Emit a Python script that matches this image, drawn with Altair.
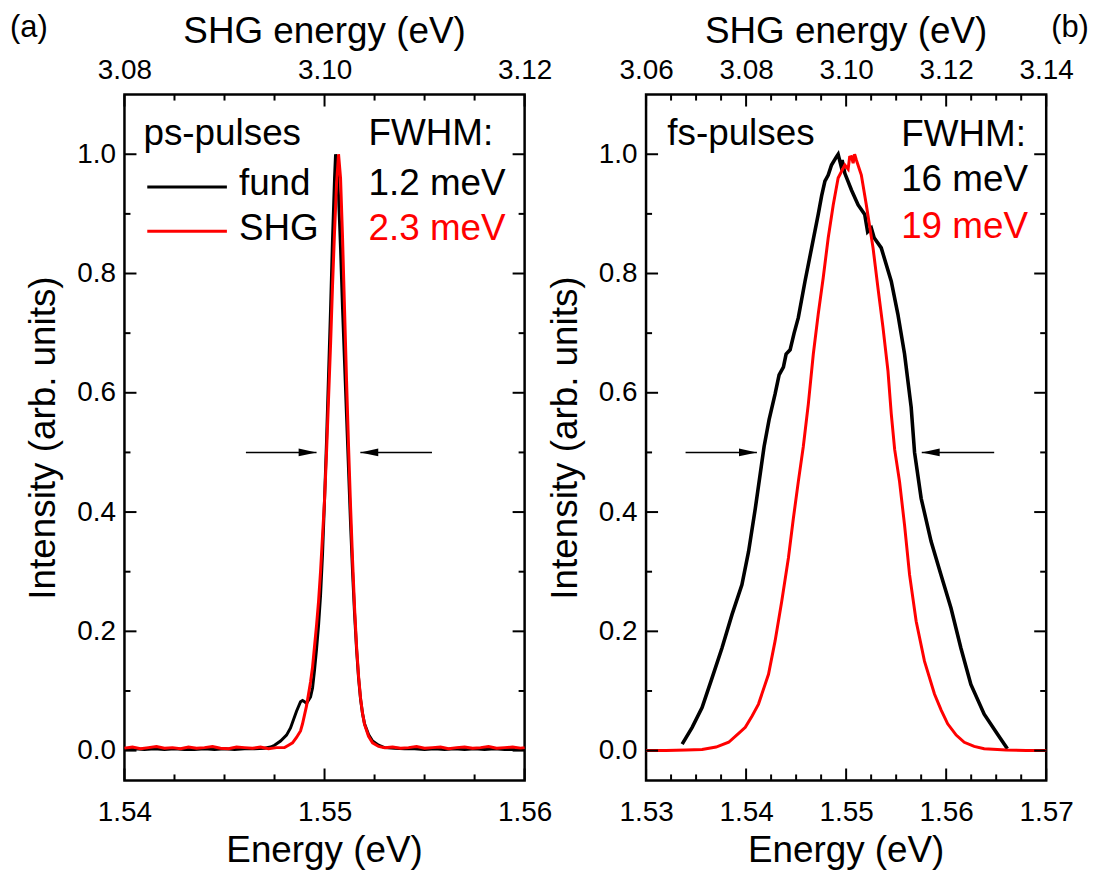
import altair as alt
import pandas as pd

FONT = "Liberation Sans, Arial, Helvetica, sans-serif"

# ---------------- data: panel (a) ps-pulses ----------------
ps_fund_E = [1.5400, 1.5405, 1.5410, 1.5415, 1.5420, 1.5425, 1.5430, 1.5435, 1.5440, 1.5445,
             1.5450, 1.5455, 1.5460, 1.5465, 1.5470, 1.5473, 1.5475, 1.5478, 1.5481, 1.5483,
             1.5486, 1.5488, 1.5489, 1.5490, 1.5491, 1.5493, 1.5494, 1.5495, 1.5496, 1.5497,
             1.5498, 1.5499, 1.5500, 1.5501, 1.5502, 1.5503, 1.5504, 1.5505, 1.55055, 1.5506,
             1.5507, 1.5508, 1.5509, 1.5510, 1.5511, 1.5512, 1.5513, 1.5514, 1.5515, 1.5516,
             1.5517, 1.5518, 1.5519, 1.5520, 1.5522, 1.5524, 1.5527, 1.5530, 1.5535, 1.5540,
             1.5545, 1.5550, 1.5555, 1.5560, 1.5565, 1.5570, 1.5575, 1.5580, 1.5585, 1.5590,
             1.5595, 1.5600]
ps_fund_I = [0.002, 0.003, 0.002, 0.003, 0.002, 0.003, 0.002, 0.002, 0.003, 0.002,
             0.003, 0.002, 0.003, 0.003, 0.004, 0.006, 0.009, 0.016, 0.026, 0.038,
             0.066, 0.082, 0.084, 0.082, 0.079, 0.090, 0.105, 0.135, 0.170, 0.210,
             0.260, 0.330, 0.420, 0.520, 0.630, 0.740, 0.860, 0.960, 1.000, 0.990,
             0.930, 0.840, 0.740, 0.650, 0.560, 0.470, 0.380, 0.300, 0.230, 0.170,
             0.122, 0.086, 0.062, 0.045, 0.027, 0.016, 0.009, 0.005, 0.004, 0.003,
             0.003, 0.002, 0.003, 0.002, 0.003, 0.002, 0.003, 0.002, 0.003, 0.002,
             0.002, 0.003]

ps_shg_E = [1.5400, 1.5404, 1.5408, 1.5412, 1.5416, 1.5420, 1.5424, 1.5428, 1.5432, 1.5436,
            1.5440, 1.5444, 1.5448, 1.5452, 1.5456, 1.5460, 1.5464, 1.5468, 1.5472, 1.5476,
            1.5480, 1.5482, 1.5484, 1.5486, 1.5488, 1.5489, 1.5490, 1.5491, 1.5492, 1.5493,
            1.5494, 1.5495, 1.5496, 1.5497, 1.5498, 1.5499, 1.5500, 1.5501, 1.5502, 1.5503,
            1.5504, 1.5505, 1.5506, 1.5507, 1.5508, 1.5509, 1.5510, 1.5511, 1.5512, 1.5513,
            1.5514, 1.5515, 1.5516, 1.5517, 1.5518, 1.5519, 1.5520, 1.5522, 1.5524, 1.5527,
            1.5530, 1.5534, 1.5538, 1.5542, 1.5546, 1.5550, 1.5554, 1.5558, 1.5562, 1.5566,
            1.5570, 1.5574, 1.5578, 1.5582, 1.5586, 1.5590, 1.5594, 1.5598, 1.5600]
ps_shg_I = [0.004, 0.006, 0.003, 0.005, 0.007, 0.004, 0.005, 0.003, 0.006, 0.004,
            0.005, 0.007, 0.004, 0.003, 0.006, 0.005, 0.004, 0.006, 0.003, 0.005,
            0.005, 0.009, 0.013, 0.022, 0.033, 0.045, 0.060, 0.075, 0.095, 0.115,
            0.140, 0.175, 0.210, 0.250, 0.300, 0.360, 0.420, 0.500, 0.590, 0.680,
            0.780, 0.870, 0.950, 1.000, 0.960, 0.860, 0.740, 0.620, 0.510, 0.410,
            0.320, 0.240, 0.175, 0.125, 0.088, 0.062, 0.044, 0.024, 0.013, 0.007,
            0.005, 0.006, 0.004, 0.005, 0.007, 0.004, 0.005, 0.006, 0.003, 0.005,
            0.006, 0.004, 0.005, 0.007, 0.004, 0.005, 0.006, 0.004, 0.005]

# ---------------- data: panel (b) fs-pulses ----------------
fs_fund_E = [1.53361, 1.53461, 1.53560, 1.53660, 1.53759, 1.53859, 1.53958, 1.54025, 1.54092, 1.54180,
             1.54230, 1.54290, 1.54330, 1.54373, 1.54400, 1.54440, 1.54480, 1.54522, 1.54589, 1.54655,
             1.54721, 1.54755, 1.54788, 1.54821, 1.54854, 1.54904, 1.54920, 1.54947, 1.54960, 1.54987,
             1.55020, 1.55053, 1.55120, 1.55186, 1.55215, 1.55252, 1.55280, 1.55351, 1.55451, 1.55517,
             1.55584, 1.55650, 1.55684, 1.55750, 1.55849, 1.55948, 1.56048, 1.56147, 1.56247, 1.56380,
             1.56512, 1.56612]
fs_fund_I = [0.011, 0.039, 0.072, 0.122, 0.172, 0.228, 0.278, 0.334, 0.406, 0.510,
             0.555, 0.598, 0.630, 0.643, 0.665, 0.672, 0.700, 0.726, 0.787, 0.843,
             0.899, 0.930, 0.955, 0.965, 0.982, 0.996, 1.000, 0.982, 0.990, 0.968,
             0.954, 0.940, 0.915, 0.899, 0.870, 0.876, 0.860, 0.843, 0.787, 0.732,
             0.665, 0.576, 0.500, 0.423, 0.351, 0.295, 0.239, 0.172, 0.111, 0.061,
             0.028, 0.003]

fs_shg_E = [1.53000, 1.53200, 1.53400, 1.53560, 1.53700, 1.53826, 1.53920, 1.53992, 1.54060, 1.54124,
            1.54224, 1.54290, 1.54356, 1.54423, 1.54473, 1.54522, 1.54572, 1.54622, 1.54672, 1.54721,
            1.54771, 1.54821, 1.54871, 1.54920, 1.54987, 1.55020, 1.55035, 1.55053, 1.55070, 1.55085,
            1.55103, 1.55152, 1.55202, 1.55269, 1.55318, 1.55368, 1.55418, 1.55451, 1.55485, 1.55534,
            1.55584, 1.55634, 1.55700, 1.55783, 1.55883, 1.55950, 1.56015, 1.56100, 1.56181, 1.56280,
            1.56380, 1.56600, 1.56800, 1.57000]
fs_shg_I = [0.000, 0.000, 0.001, 0.002, 0.006, 0.014, 0.028, 0.039, 0.058, 0.078,
            0.128, 0.184, 0.250, 0.323, 0.390, 0.451, 0.510, 0.581, 0.665, 0.732,
            0.793, 0.860, 0.915, 0.960, 0.982, 0.975, 0.995, 0.996, 0.985, 1.000,
            0.990, 0.965, 0.915, 0.843, 0.776, 0.710, 0.637, 0.565, 0.505, 0.451,
            0.378, 0.295, 0.217, 0.150, 0.095, 0.068, 0.045, 0.026, 0.014, 0.007,
            0.003, 0.001, 0.000, 0.000]

# ---------------- axes ----------------
y_domain = [-0.05, 1.10]
y_major = [0.0, 0.2, 0.4, 0.6, 0.8, 1.0]
y_minor = [0.1, 0.3, 0.5, 0.7, 0.9]

a_x_domain = [1.54, 1.56]
a_x_major = [1.54, 1.55, 1.56]
a_x_minor = [1.5425, 1.545, 1.5475, 1.5525, 1.555, 1.5575]
a_top_domain = [3.08, 3.12]
a_top_major = [3.08, 3.10, 3.12]
a_top_minor = [3.085, 3.09, 3.095, 3.105, 3.11, 3.115]

b_x_domain = [1.53, 1.57]
b_x_major = [1.53, 1.54, 1.55, 1.56, 1.57]
b_x_minor = [1.5325, 1.535, 1.5375, 1.5425, 1.545, 1.5475, 1.5525, 1.555, 1.5575,
             1.5625, 1.565, 1.5675]
b_top_domain = [3.06, 3.14]
b_top_major = [3.06, 3.08, 3.10, 3.12, 3.14]
b_top_minor = [3.065, 3.07, 3.075, 3.085, 3.09, 3.095, 3.105, 3.11, 3.115, 3.125, 3.13, 3.135]

x_title = "Energy (eV)"
top_title = "SHG energy (eV)"
y_title = "Intensity (arb. units)"

# tick lengths (major, minor) in data units: 12 px and 6 px
tick_len_y = [0.02, 0.01]
a_tick_len_x = [0.0006, 0.0003]
b_tick_len_x = [0.0012, 0.0006]

# ---------------- annotations ----------------
a_text_x = [1.54095, 1.54572, 1.54572, 1.5522, 1.5522, 1.5522]
a_text_y = [1.0155, 0.932, 0.857, 1.0155, 0.932, 0.857]
a_text = ["ps-pulses", "fund", "SHG", "FWHM:", "1.2 meV", "2.3 meV"]
a_text_c = ["black", "black", "black", "black", "black", "red"]
a_leg_x = [1.54114, 1.54114]
a_leg_x2 = [1.54512, 1.54512]
a_leg_y = [0.945, 0.871]
a_leg_c = ["black", "red"]
a_arrow_start = [1.54607, 1.55537]
a_arrow_tip = [1.54960, 1.55179]
arrow_level = [0.5, 0.5]

b_text_x = [1.53212, 1.5555, 1.5555, 1.5555]
b_text_y = [1.0155, 1.0145, 0.9377, 0.8598]
b_text = ["fs-pulses", "FWHM:", "16 meV", "19 meV"]
b_text_c = ["black", "black", "black", "red"]
b_arrow_start = [1.53395, 1.56480]
b_arrow_tip = [1.54108, 1.55756]

HEAD_R = "M-2,-0.44L0,0L-2,0.44Z"
HEAD_L = "M2,-0.44L0,0L2,0.44Z"

W, H = 402, 689


def ax(**kw):
    base = dict(domain=False, grid=False, ticks=False, tickSize=0,
                labelFont=FONT, labelFontSize=28, labelColor="black", labelFlush=False,
                titleFont=FONT, titleFontSize=37, titleColor="black",
                titleFontWeight="normal")
    base.update(kw)
    return alt.Axis(**base)


def ys():
    return alt.Scale(domain=y_domain, nice=False, zero=False)


def vticks(values, xscale, y_from, y_to):
    df = pd.DataFrame({"v": values, "y0": [y_from] * len(values), "y1": [y_to] * len(values)})
    return alt.Chart(df).mark_rule(strokeWidth=2).encode(
        x=alt.X("v:Q", scale=xscale, axis=None),
        y=alt.Y("y0:Q", scale=ys(), axis=None),
        y2="y1:Q",
        color=alt.value("black"),
    )


def hticks(values, xscale, x_from, x_to):
    df = pd.DataFrame({"v": values, "x0": [x_from] * len(values), "x1": [x_to] * len(values)})
    return alt.Chart(df).mark_rule(strokeWidth=2).encode(
        x=alt.X("x0:Q", scale=xscale, axis=None),
        x2="x1:Q",
        y=alt.Y("v:Q", scale=ys(), axis=None),
        color=alt.value("black"),
    )


def panel(fE, fI, sE, sI, xdom, xmaj, xmin, tdom, tmaj, tmin, tlx,
          tx, ty, tt, tc, legx, legx2, legy, legc, arr_s, arr_t, tag, tag_x, fund_w):
    xs = alt.Scale(domain=xdom, nice=False, zero=False)
    ts = alt.Scale(domain=tdom, nice=False, zero=False)

    fund = alt.Chart(pd.DataFrame({"E": fE, "I": fI})).mark_line(
        color="black", strokeWidth=fund_w).encode(
        x=alt.X("E:Q", scale=xs, axis=ax(orient="bottom", values=xmaj, format=".2f",
                                         labelPadding=18, title=None)),
        y=alt.Y("I:Q", scale=ys(), axis=ax(orient="left", values=y_major, format=".1f",
                                           labelPadding=9, titlePadding=14, title=y_title)),
        order="E:Q",
    )
    shg = alt.Chart(pd.DataFrame({"E": sE, "I": sI})).mark_line(
        color="#ff0000", strokeWidth=3).encode(
        x=alt.X("E:Q", scale=xs, axis=None),
        y=alt.Y("I:Q", scale=ys(), axis=None),
        order="E:Q",
    )
    top_lab = alt.Chart(pd.DataFrame({"a": [tdom[0]]})).mark_point(opacity=0).encode(
        x=alt.X("a:Q", scale=ts, axis=ax(orient="top", values=tmaj, format=".2f",
                                         labelPadding=10, title=None)),
    )
    y0, y1 = y_domain
    ticks = [
        vticks(xmaj, xs, y0, y0 + tick_len_y[0]), vticks(xmin, xs, y0, y0 + tick_len_y[1]),
        vticks(tmaj, ts, y1, y1 - tick_len_y[0]), vticks(tmin, ts, y1, y1 - tick_len_y[1]),
        hticks(y_major, xs, xdom[0], xdom[0] + tlx[0]), hticks(y_minor, xs, xdom[0], xdom[0] + tlx[1]),
        hticks(y_major, xs, xdom[1], xdom[1] - tlx[0]), hticks(y_minor, xs, xdom[1], xdom[1] - tlx[1]),
    ]
    texts = alt.Chart(pd.DataFrame({"x": tx, "y": ty, "t": tt, "c": tc})).mark_text(
        align="left", baseline="alphabetic", font=FONT, fontSize=37).encode(
        x=alt.X("x:Q", scale=xs, axis=None),
        y=alt.Y("y:Q", scale=ys(), axis=None),
        text="t:N",
        color=alt.Color("c:N", scale=None),
    )
    layers = [fund, shg, top_lab] + ticks + [texts]
    if legx:
        leg = alt.Chart(pd.DataFrame({"x": legx, "x2": legx2, "y": legy, "c": legc})).mark_rule(
            strokeWidth=3).encode(
            x=alt.X("x:Q", scale=xs, axis=None),
            x2="x2:Q",
            y=alt.Y("y:Q", scale=ys(), axis=None),
            color=alt.Color("c:N", scale=None),
        )
        layers.append(leg)
    arr_df = pd.DataFrame({"s": arr_s, "t": arr_t, "y": arrow_level,
                           "shape": [HEAD_R, HEAD_L]})
    shafts = alt.Chart(arr_df).mark_rule(strokeWidth=1.5, color="black").encode(
        x=alt.X("s:Q", scale=xs, axis=None),
        x2="t:Q",
        y=alt.Y("y:Q", scale=ys(), axis=None),
    )
    heads = alt.Chart(arr_df).mark_point(filled=True, opacity=1, size=324,
                                         color="black", strokeWidth=0).encode(
        x=alt.X("t:Q", scale=xs, axis=None),
        y=alt.Y("y:Q", scale=ys(), axis=None),
        shape=alt.Shape("shape:N", scale=None),
    )
    tagc = alt.Chart(pd.DataFrame({"t": [tag]})).mark_text(
        align="left", baseline="top", font=FONT, fontSize=31, color="black").encode(
        x=alt.value(tag_x), y=alt.value(-82), text="t:N")
    ttop = alt.Chart(pd.DataFrame({"t": [top_title]})).mark_text(
        align="center", baseline="alphabetic", font=FONT, fontSize=37, color="black").encode(
        x=alt.value(W / 2), y=alt.value(-52), text="t:N")
    tbot = alt.Chart(pd.DataFrame({"t": [x_title]})).mark_text(
        align="center", baseline="alphabetic", font=FONT, fontSize=37, color="black").encode(
        x=alt.value(W / 2), y=alt.value(H + 82), text="t:N")
    layers += [shafts, heads, tagc, ttop, tbot]
    return alt.layer(*layers).resolve_scale(
        x="independent", y="independent").resolve_axis(
        x="independent", y="independent").properties(width=W, height=H)


left = panel(ps_fund_E, ps_fund_I, ps_shg_E, ps_shg_I, a_x_domain, a_x_major, a_x_minor,
             a_top_domain, a_top_major, a_top_minor, a_tick_len_x,
             a_text_x, a_text_y, a_text, a_text_c, a_leg_x, a_leg_x2, a_leg_y, a_leg_c,
             a_arrow_start, a_arrow_tip, "(a)", -115, 3)
right = panel(fs_fund_E, fs_fund_I, fs_shg_E, fs_shg_I, b_x_domain, b_x_major, b_x_minor,
              b_top_domain, b_top_major, b_top_minor, b_tick_len_x,
              b_text_x, b_text_y, b_text, b_text_c, [], [], [], [],
              b_arrow_start, b_arrow_tip, "(b)", 407, 3.6)

chart = alt.hconcat(left, right, spacing=122, bounds="flush", padding=0,
                    background="white").configure_view(stroke="black", strokeWidth=2.5)

chart.save("out.html", embed_options={"renderer": "svg", "actions": False})
